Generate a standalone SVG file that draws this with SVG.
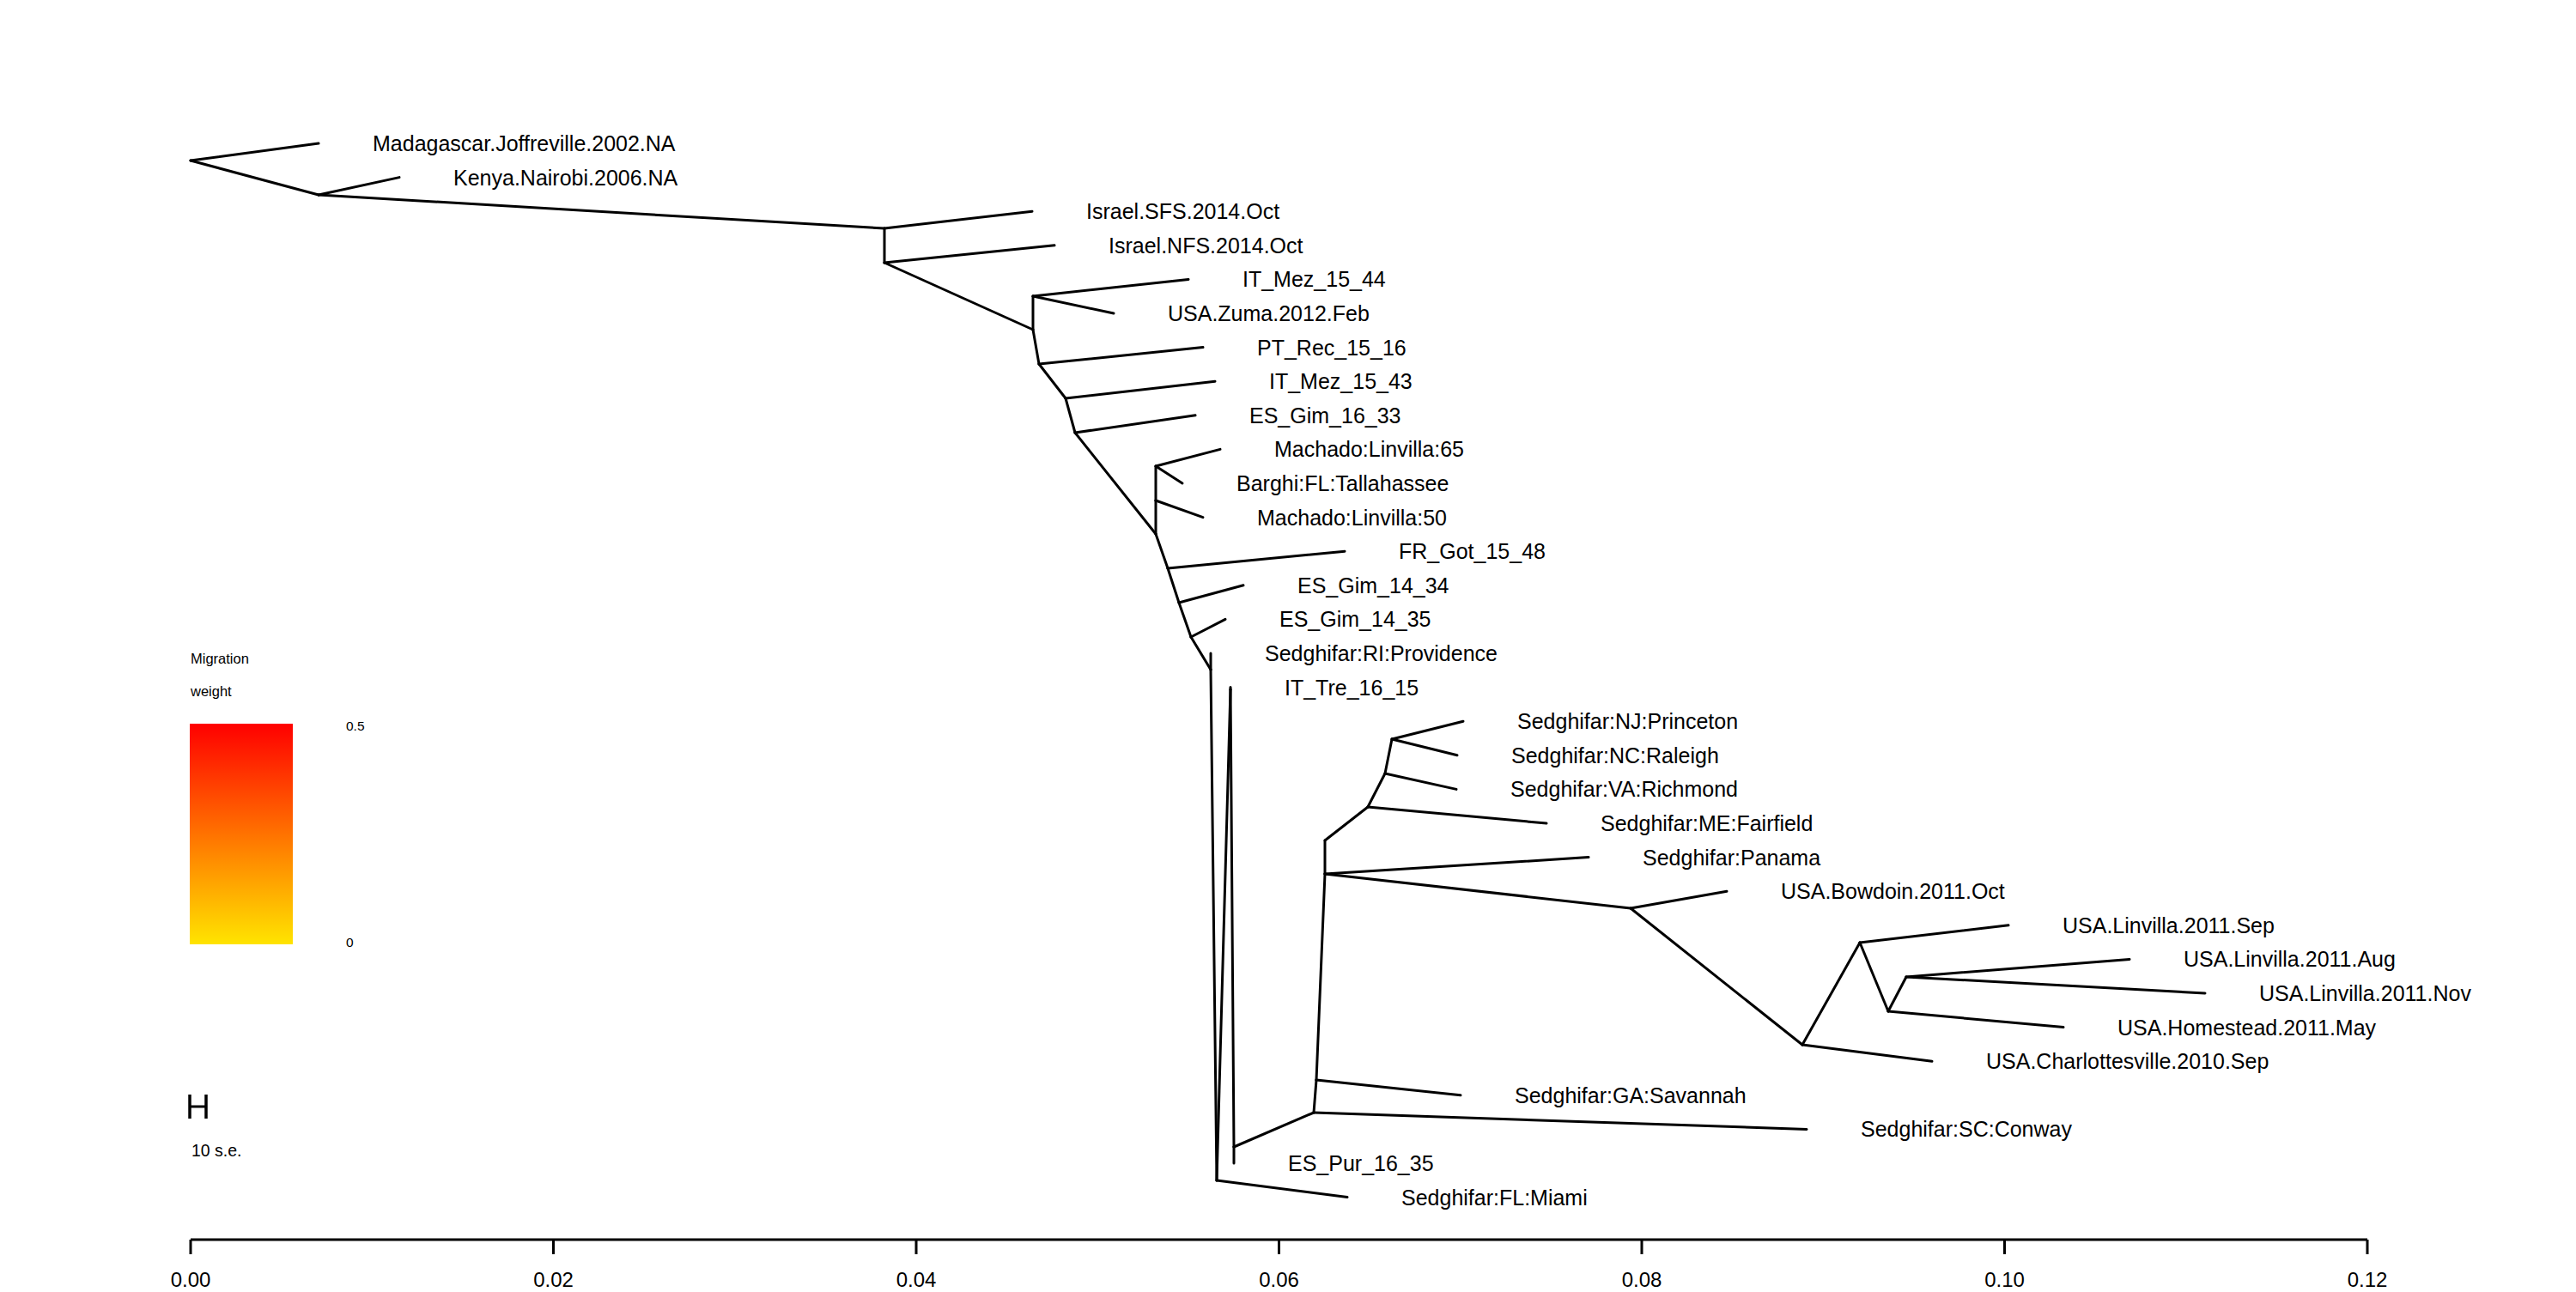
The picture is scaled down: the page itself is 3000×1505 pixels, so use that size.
<svg xmlns="http://www.w3.org/2000/svg" width="3000" height="1505" viewBox="0 0 3000 1505">
<style>
  .br { stroke: #000; stroke-width: 3; fill: none; stroke-linecap: round; stroke-linejoin: round; }
  .lab { font-family: "Liberation Sans", Arial, sans-serif; font-size: 25px; fill: #000; }
  .leg { font-family: "Liberation Sans", Arial, sans-serif; font-size: 16.5px; fill: #000; }
  .tick { font-family: "Liberation Sans", Arial, sans-serif; font-size: 24px; fill: #000; text-anchor: middle; }
  .ax { stroke: #000; stroke-width: 3; fill: none; }
</style>
<defs>
  <linearGradient id="heat" x1="0" y1="1" x2="0" y2="0">
    <stop offset="0" stop-color="#FFE400"/>
    <stop offset="1" stop-color="#FF0000"/>
  </linearGradient>
</defs>
<rect x="0" y="0" width="3000" height="1505" fill="#fff"/>

<g id="connectors" class="br">
  <line x1="222" y1="187" x2="371" y2="167"/>
  <line x1="222" y1="187" x2="371" y2="227"/>
  <line x1="371" y1="227" x2="465" y2="206.6"/>
  <line x1="371" y1="227" x2="1030" y2="266"/>
  <line x1="1030" y1="266" x2="1202" y2="246.2"/>
  <line x1="1030" y1="266" x2="1030" y2="306"/>
  <line x1="1030" y1="306" x2="1228" y2="285.8"/>
  <line x1="1030" y1="306" x2="1203" y2="384"/>
  <line x1="1203" y1="384" x2="1203" y2="345"/>
  <line x1="1203" y1="345" x2="1384" y2="325.4"/>
  <line x1="1203" y1="345" x2="1297" y2="365"/>
  <line x1="1203" y1="384" x2="1210" y2="424"/>
  <line x1="1210" y1="424" x2="1401" y2="404.6"/>
  <line x1="1210" y1="424" x2="1241" y2="464"/>
  <line x1="1241" y1="464" x2="1415" y2="444.2"/>
  <line x1="1241" y1="464" x2="1252" y2="504"/>
  <line x1="1252" y1="504" x2="1392" y2="483.8"/>
  <line x1="1252" y1="504" x2="1346" y2="622"/>
  <line x1="1346" y1="622" x2="1346" y2="583"/>
  <line x1="1346" y1="583" x2="1346" y2="543"/>
  <line x1="1346" y1="543" x2="1421" y2="523.4"/>
  <line x1="1346" y1="543" x2="1377" y2="563"/>
  <line x1="1346" y1="583" x2="1401" y2="602.6"/>
  <line x1="1346" y1="622" x2="1360" y2="662"/>
  <line x1="1360" y1="662" x2="1566" y2="642.2"/>
  <line x1="1360" y1="662" x2="1373" y2="702"/>
  <line x1="1373" y1="702" x2="1448" y2="681.8"/>
  <line x1="1373" y1="702" x2="1387" y2="742"/>
  <line x1="1387" y1="742" x2="1427" y2="721.4"/>
  <line x1="1387" y1="742" x2="1410" y2="780"/>
  <line x1="1410" y1="780" x2="1410" y2="761"/>
  <line x1="1410" y1="780" x2="1417" y2="1375"/>
  <line x1="1417" y1="1375" x2="1569" y2="1394.6"/>
  <line x1="1417" y1="1375" x2="1433" y2="803"/>
  <line x1="1433" y1="803" x2="1433" y2="800.6"/>
  <line x1="1433" y1="803" x2="1437" y2="1336"/>
  <line x1="1437" y1="1336" x2="1437" y2="1355"/>
  <line x1="1437" y1="1336" x2="1530" y2="1296"/>
  <line x1="1530" y1="1296" x2="2104" y2="1315.4"/>
  <line x1="1530" y1="1296" x2="1533" y2="1258"/>
  <line x1="1533" y1="1258" x2="1701" y2="1275.8"/>
  <line x1="1533" y1="1258" x2="1543" y2="1018"/>
  <line x1="1543" y1="1018" x2="1850" y2="998.6"/>
  <line x1="1543" y1="1018" x2="1543" y2="979"/>
  <line x1="1543" y1="979" x2="1593" y2="940"/>
  <line x1="1593" y1="940" x2="1801" y2="959"/>
  <line x1="1593" y1="940" x2="1613" y2="901"/>
  <line x1="1613" y1="901" x2="1696" y2="919.4"/>
  <line x1="1613" y1="901" x2="1621" y2="861"/>
  <line x1="1621" y1="861" x2="1704" y2="840.2"/>
  <line x1="1621" y1="861" x2="1697" y2="879.8"/>
  <line x1="1543" y1="1018" x2="1899" y2="1058"/>
  <line x1="1899" y1="1058" x2="2011" y2="1038.2"/>
  <line x1="1899" y1="1058" x2="2099" y2="1217"/>
  <line x1="2099" y1="1217" x2="2250" y2="1236.2"/>
  <line x1="2099" y1="1217" x2="2166" y2="1098"/>
  <line x1="2166" y1="1098" x2="2339" y2="1077.8"/>
  <line x1="2166" y1="1098" x2="2199" y2="1178"/>
  <line x1="2199" y1="1178" x2="2403" y2="1196.6"/>
  <line x1="2199" y1="1178" x2="2220" y2="1138"/>
  <line x1="2220" y1="1138" x2="2480" y2="1117.4"/>
  <line x1="2220" y1="1138" x2="2568" y2="1157"/>
</g>

<g id="tips" class="lab">
  <g id="n-madagascar"><text x="434" y="176">Madagascar.Joffreville.2002.NA</text></g>
  <g id="n-kenya"><text x="528" y="215.6">Kenya.Nairobi.2006.NA</text></g>
  <g id="n-israel-sfs"><text x="1265" y="255.2">Israel.SFS.2014.Oct</text></g>
  <g id="n-israel-nfs"><text x="1291" y="294.8">Israel.NFS.2014.Oct</text></g>
  <g id="n-it-mez-44"><text x="1447" y="334.4">IT_Mez_15_44</text></g>
  <g id="n-usa-zuma"><text x="1360" y="374">USA.Zuma.2012.Feb</text></g>
  <g id="n-pt-rec"><text x="1464" y="413.6">PT_Rec_15_16</text></g>
  <g id="n-it-mez-43"><text x="1478" y="453.2">IT_Mez_15_43</text></g>
  <g id="n-es-gim-1633"><text x="1455" y="492.8">ES_Gim_16_33</text></g>
  <g id="n-machado-65"><text x="1484" y="532.4">Machado:Linvilla:65</text></g>
  <g id="n-barghi"><text x="1440" y="572">Barghi:FL:Tallahassee</text></g>
  <g id="n-machado-50"><text x="1464" y="611.6">Machado:Linvilla:50</text></g>
  <g id="n-fr-got"><text x="1629" y="651.2">FR_Got_15_48</text></g>
  <g id="n-es-gim-1434"><text x="1511" y="690.8">ES_Gim_14_34</text></g>
  <g id="n-es-gim-1435"><text x="1490" y="730.4">ES_Gim_14_35</text></g>
  <g id="n-ri-providence"><text x="1473" y="770">Sedghifar:RI:Providence</text></g>
  <g id="n-it-tre"><text x="1496" y="809.6">IT_Tre_16_15</text></g>
  <g id="n-nj-princeton"><text x="1767" y="849.2">Sedghifar:NJ:Princeton</text></g>
  <g id="n-nc-raleigh"><text x="1760" y="888.8">Sedghifar:NC:Raleigh</text></g>
  <g id="n-va-richmond"><text x="1759" y="928.4">Sedghifar:VA:Richmond</text></g>
  <g id="n-me-fairfield"><text x="1864" y="968">Sedghifar:ME:Fairfield</text></g>
  <g id="n-panama"><text x="1913" y="1007.6">Sedghifar:Panama</text></g>
  <g id="n-bowdoin"><text x="2074" y="1047.2">USA.Bowdoin.2011.Oct</text></g>
  <g id="n-linvilla-sep"><text x="2402" y="1086.8">USA.Linvilla.2011.Sep</text></g>
  <g id="n-linvilla-aug"><text x="2543" y="1126.4">USA.Linvilla.2011.Aug</text></g>
  <g id="n-linvilla-nov"><text x="2631" y="1166">USA.Linvilla.2011.Nov</text></g>
  <g id="n-homestead"><text x="2466" y="1205.6">USA.Homestead.2011.May</text></g>
  <g id="n-charlottesville"><text x="2313" y="1245.2">USA.Charlottesville.2010.Sep</text></g>
  <g id="n-ga-savannah"><text x="1764" y="1284.8">Sedghifar:GA:Savannah</text></g>
  <g id="n-sc-conway"><text x="2167" y="1324.4">Sedghifar:SC:Conway</text></g>
  <g id="n-es-pur"><text x="1500" y="1364">ES_Pur_16_35</text></g>
  <g id="n-fl-miami"><text x="1632" y="1403.6">Sedghifar:FL:Miami</text></g>
</g>

<g id="legend">
  <text class="leg" x="222" y="773">Migration</text>
  <text class="leg" x="222" y="811">weight</text>
  <rect x="221" y="843" width="120" height="257" fill="url(#heat)"/>
  <text class="leg" x="403" y="851" style="font-size:15.5px">0.5</text>
  <text class="leg" x="403" y="1103" style="font-size:15.5px">0</text>
</g>

<g id="scalebar">
  <line class="ax" x1="221" y1="1289" x2="240" y2="1289"/>
  <line class="ax" x1="221" y1="1275" x2="221" y2="1303" style="stroke-width:3.5"/>
  <line class="ax" x1="240" y1="1275" x2="240" y2="1303" style="stroke-width:3.5"/>
  <text x="223" y="1347" style="font-family:'Liberation Sans', Arial, sans-serif; font-size:19.5px">10 s.e.</text>
</g>

<g id="axis">
  <line class="ax" x1="222" y1="1444" x2="2757" y2="1444"/>
  <line class="ax" x1="222" y1="1444" x2="222" y2="1461"/>
  <line class="ax" x1="644.5" y1="1444" x2="644.5" y2="1461"/>
  <line class="ax" x1="1067" y1="1444" x2="1067" y2="1461"/>
  <line class="ax" x1="1489.5" y1="1444" x2="1489.5" y2="1461"/>
  <line class="ax" x1="1912" y1="1444" x2="1912" y2="1461"/>
  <line class="ax" x1="2334.5" y1="1444" x2="2334.5" y2="1461"/>
  <line class="ax" x1="2757" y1="1444" x2="2757" y2="1461"/>
  <text class="tick" x="222" y="1499">0.00</text>
  <text class="tick" x="644.5" y="1499">0.02</text>
  <text class="tick" x="1067" y="1499">0.04</text>
  <text class="tick" x="1489.5" y="1499">0.06</text>
  <text class="tick" x="1912" y="1499">0.08</text>
  <text class="tick" x="2334.5" y="1499">0.10</text>
  <text class="tick" x="2757" y="1499">0.12</text>
</g>
</svg>
